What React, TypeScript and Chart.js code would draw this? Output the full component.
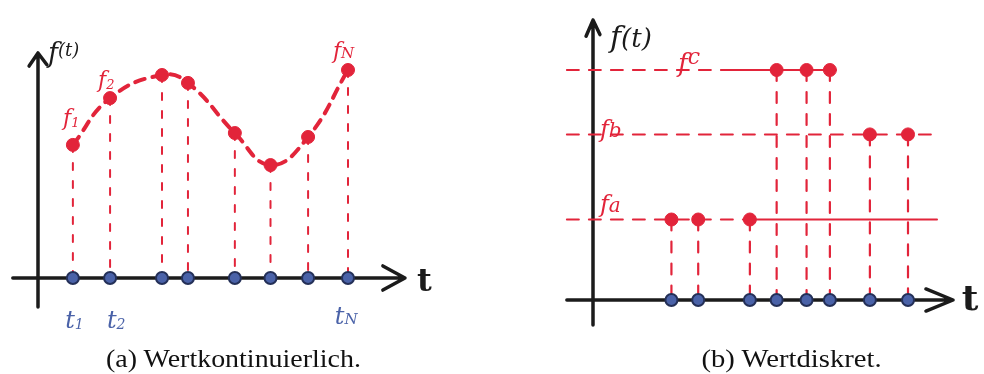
import { useEffect, useLayoutEffect, useRef } from "react";
import { Chart, registerables } from "chart.js";

Chart.register(...registerables);

const RED = "#e2243a";
const BLUE_FILL = "#4a62a8";
const BLUE_EDGE = "#243058";
const INK = "#1b1b1b";

// ---- (a) value-continuous signal: sample times and sampled values ----
const contTimes = [0.9, 1.86, 3.2, 3.87, 5.08, 6.0, 6.97, 8.0];
const contValues = [6.4, 8.65, 9.76, 9.38, 6.97, 5.43, 6.78, 10.0];

// axis extents (data units) for panel (a)
const contTimeAxis = [-0.65, 9.47];
const contValueAxis = [-1.39, 10.82];

// ---- (b) value-discrete signal: quantisation levels and samples ----
const levelNames = ["a", "b", "c"];
const levelValues = [3.5, 7.2, 10];
const levelEnds = [10.92, 10.79, 7.71];
const levelSolidFrom = [5.0, Infinity, 4.2];
const discTimes = [2.49, 3.34, 4.98, 5.83, 6.78, 7.52, 8.79, 10.0];
const discLevel = [0, 0, 0, 2, 2, 2, 1, 1];

// axis extents (data units) for panel (b)
const discTimeAxis = [-0.83, 11.43];
const discValueAxis = [-1.09, 12.17];

type Label = {
  main: string;
  sub?: string;
  x: number;
  y: number;
  color: string;
  size: number;
  subSize?: number;
  subDy?: number;
  weight?: string;
};

const labelsA: Label[] = [
  { main: "f", sub: "(t)", x: 0.26, y: 10.38, color: INK, size: 27, subSize: 18, subDy: -6 },
  { main: "f", sub: "1", x: 0.645, y: 7.36, color: RED, size: 22, subSize: 13, subDy: 2 },
  { main: "f", sub: "2", x: 1.55, y: 9.18, color: RED, size: 22, subSize: 13, subDy: 2 },
  { main: "f", sub: "N", x: 7.61, y: 10.58, color: RED, size: 22, subSize: 15, subDy: 0 },
  { main: "t", sub: "1", x: 0.7, y: -2.4, color: BLUE_FILL, size: 24, subSize: 14, subDy: 1 },
  { main: "t", sub: "2", x: 1.78, y: -2.4, color: BLUE_FILL, size: 24, subSize: 14, subDy: 1 },
  { main: "t", sub: "N", x: 7.66, y: -2.21, color: BLUE_FILL, size: 24, subSize: 15, subDy: 0 },
  { main: "t", x: 9.78, y: -0.63, color: INK, size: 32, weight: "bold" },
];

const labelsB: Label[] = [
  { main: "f", sub: "(t)", x: 0.54, y: 11.0, color: INK, size: 30, subSize: 26, subDy: 0 },
  { main: "f", sub: levelNames[2], x: 2.7, y: 9.91, color: RED, size: 26, subSize: 22, subDy: -8 },
  { main: "f", sub: levelNames[1], x: 0.22, y: 7.09, color: RED, size: 24, subSize: 20, subDy: 0 },
  { main: "f", sub: levelNames[0], x: 0.22, y: 3.83, color: RED, size: 24, subSize: 20, subDy: 0 },
  { main: "t", x: 11.71, y: -0.43, color: INK, size: 36, weight: "bold" },
];

const handLabels = (labels: Label[]) => ({
  id: "handLabels",
  afterDatasetsDraw(chart: any) {
    const { ctx } = chart;
    const xs = chart.scales.x;
    const ys = chart.scales.y;
    ctx.save();
    ctx.textAlign = "left";
    ctx.textBaseline = "alphabetic";
    for (const l of labels) {
      const px = xs.getPixelForValue(l.x);
      const py = ys.getPixelForValue(l.y);
      const style = l.weight ? `${l.weight} ` : "italic ";
      ctx.fillStyle = l.color;
      ctx.font = `${style}${l.size}px "DejaVu Serif"`;
      ctx.fillText(l.main, px, py);
      if (l.sub) {
        const w = ctx.measureText(l.main).width;
        ctx.font = `${style}${l.subSize}px "DejaVu Serif"`;
        ctx.fillText(l.sub, px + w, py + (l.subDy || 0));
      }
    }
    ctx.restore();
  },
});

const pt = (x: number, y: number | null) => ({ x, y });
const gap = (x: number) => ({ x, y: null });

// axis lines with arrow heads, built from the axis extents
// xHead / yHead: [offset along the axis, offset across it] of each barb
function axisData(tAxis: number[], fAxis: number[], xHead: number[], yHead: number[]) {
  const [t0, t1] = tAxis;
  const [f0, f1] = fAxis;
  return [
    pt(t0, 0), pt(t1, 0), gap(t1),
    pt(t1 - xHead[0], xHead[1]), pt(t1, 0), pt(t1 - xHead[0], -xHead[1]), gap(t1),
    pt(0, f0), pt(0, f1), gap(0),
    pt(-yHead[1], f1 - yHead[0]), pt(0, f1), pt(yHead[1], f1 - yHead[0] * 0.9),
  ];
}

function dropData(times: number[], values: number[]) {
  const out: any[] = [];
  times.forEach((t, i) => {
    out.push(pt(t, values[i]), pt(t, 0), gap(t));
  });
  return out;
}

const lineBase = {
  showLine: true,
  pointRadius: 0,
  pointHoverRadius: 0,
  fill: false,
  spanGaps: false,
  borderCapStyle: "round" as const,
  borderJoinStyle: "round" as const,
};

function baseOptions(xr: number[], yr: number[]) {
  return {
    responsive: false,
    animation: false as const,
    events: [],
    layout: { padding: 0, autoPadding: false },
    plugins: { legend: { display: false }, tooltip: { enabled: false } },
    scales: {
      x: { type: "linear" as const, min: xr[0], max: xr[1], display: false },
      y: { type: "linear" as const, min: yr[0], max: yr[1], display: false },
    },
  };
}

function configA(): any {
  const red = contTimes.map((t, i) => pt(t, contValues[i]));
  const blue = contTimes.map((t) => pt(t, 0));
  return {
    type: "scatter",
    data: {
      datasets: [
        { data: red, pointRadius: 6.5, backgroundColor: RED, borderColor: RED, borderWidth: 1, showLine: false, clip: false },
        { data: blue, pointRadius: 6, backgroundColor: BLUE_FILL, borderColor: BLUE_EDGE, borderWidth: 2, showLine: false, clip: false },
        { ...lineBase, data: red, borderColor: RED, borderWidth: 4, borderDash: [10, 8], tension: 0.45 },
        { ...lineBase, data: dropData(contTimes, contValues), borderColor: RED, borderWidth: 2, borderDash: [7, 11] },
        {
          ...lineBase,
          data: axisData(contTimeAxis, contValueAxis, [0.57, 0.58], [0.63, 0.23]),
          borderColor: INK,
          borderWidth: 3.5,
        },
      ],
    },
    options: baseOptions([-38 / 38.75, 454 / 38.75], [-96 / 20.8, 278 / 20.8]),
    plugins: [handLabels(labelsA)],
  };
}

function configB(): any {
  const vals = discTimes.map((_, i) => levelValues[discLevel[i]]);
  const red = discTimes.map((t, i) => pt(t, vals[i]));
  const blue = discTimes.map((t) => pt(t, 0));
  const levels = levelValues.map((v, k) => ({
    ...lineBase,
    data: [pt(discTimeAxis[0], v), pt(Math.min(levelSolidFrom[k], levelEnds[k]), v), pt(levelEnds[k], v)],
    borderColor: RED,
    borderWidth: 2,
    segment: {
      borderDash: (c: any) => (c.p0.parsed.x >= levelSolidFrom[k] ? [] : [12, 10]),
    },
  }));
  return {
    type: "scatter",
    data: {
      datasets: [
        { data: red, pointRadius: 6.5, backgroundColor: RED, borderColor: RED, borderWidth: 1, showLine: false, clip: false },
        { data: blue, pointRadius: 6, backgroundColor: BLUE_FILL, borderColor: BLUE_EDGE, borderWidth: 2, showLine: false, clip: false },
        { ...lineBase, data: dropData(discTimes, vals), borderColor: RED, borderWidth: 2.2, borderDash: [11, 11] },
        ...levels,
        {
          ...lineBase,
          data: axisData(discTimeAxis, discValueAxis, [0.86, 0.48], [0.7, 0.22]),
          borderColor: INK,
          borderWidth: 3.5,
        },
      ],
    },
    options: baseOptions([-101 / 31.5, 391 / 31.5], [-74 / 23, 300 / 23]),
    plugins: [handLabels(labelsB)],
  };
}

function Panel({ make, left }: { make: () => any; left: number }) {
  const ref = useRef<HTMLCanvasElement>(null);
  useEffect(() => {
    const chart = new Chart(ref.current as HTMLCanvasElement, make());
    return () => chart.destroy();
  }, [make]);
  return (
    <canvas
      ref={ref}
      width={492}
      height={374}
      style={{ position: "absolute", left, top: 0, width: 492, height: 374 }}
    />
  );
}

function Caption({ text, center, width }: { text: string; center: number; width: number }) {
  const ref = useRef<HTMLSpanElement>(null);
  useLayoutEffect(() => {
    const el = ref.current;
    if (!el) return;
    const w = el.offsetWidth;
    el.style.transform = `translateX(-50%) scaleX(${w ? width / w : 1})`;
  }, [width]);
  return (
    <span
      ref={ref}
      style={{
        position: "absolute",
        left: center,
        top: 346,
        font: '25px "Liberation Serif"',
        lineHeight: 1,
        whiteSpace: "nowrap",
        color: "#111",
        transformOrigin: "0 0",
        display: "inline-block",
      }}
    >
      {text}
    </span>
  );
}

export default function App() {
  return (
    <div
      style={{
        position: "fixed",
        left: 0,
        top: 0,
        width: 984,
        height: 374,
        background: "#fff",
        overflow: "hidden",
      }}
    >
      <Panel make={configA} left={0} />
      <Panel make={configB} left={492} />
      <Caption text="(a) Wertkontinuierlich." center={219.5} width={255} />
      <Caption text="(b) Wertdiskret." center={780} width={180} />
    </div>
  );
}
